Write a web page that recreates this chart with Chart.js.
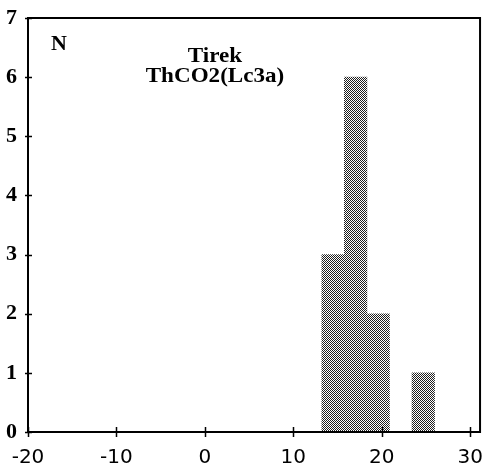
<!DOCTYPE html>
<html>
<head>
<meta charset="utf-8">
<script src="https://cdn.jsdelivr.net/npm/chart.js@4/dist/chart.umd.min.js"></script>
<style>
  html, body { margin: 0; padding: 0; background: #fff; }
  #wrap { width: 489px; height: 472px; }
</style>
</head>
<body>
<div id="wrap"><canvas id="c" width="489" height="472"></canvas></div>
<script>
// ---- data ----
const binCenters = [14.5, 17.05, 19.6, 22.15, 24.7];
const counts     = [3, 6, 2, 0, 1];
const xTickValues = [-20, -10, 0, 10, 20, 30];
const yTickValues = [0, 1, 2, 3, 4, 5, 6, 7];
const titleLines = ['Tirek', 'ThCO2(Lc3a)'];
const yAxisLabel = 'N';

// dithered fill like the printed histogram (fine checkerboard)
function makePattern() {
  const p = document.createElement('canvas');
  p.width = 2; p.height = 2;
  const g = p.getContext('2d');
  g.fillStyle = '#ffffff'; g.fillRect(0, 0, 2, 2);
  g.fillStyle = '#202020';
  g.fillRect(0, 0, 1, 1); g.fillRect(1, 1, 1, 1);
  return document.getElementById('c').getContext('2d').createPattern(p, 'repeat');
}

const framePlugin = {
  id: 'frame',
  afterDraw(chart) {
    const ctx = chart.ctx;
    const a = chart.chartArea;
    const xs = chart.scales.x, ys = chart.scales.y;
    ctx.save();
    ctx.strokeStyle = '#000';
    ctx.lineWidth = 2;
    ctx.beginPath();
    ctx.moveTo(a.left, a.top); ctx.lineTo(a.right, a.top);
    ctx.lineTo(a.right, a.bottom); ctx.lineTo(a.left, a.bottom);
    ctx.closePath();
    ctx.stroke();
    ctx.lineWidth = 1.5;
    ctx.beginPath();
    xTickValues.forEach(v => {
      const px = Math.round(xs.getPixelForValue(v)) + 0.5;
      ctx.moveTo(px, a.bottom - 5); ctx.lineTo(px, a.bottom + 5);
    });
    yTickValues.forEach(v => {
      const py = Math.round(ys.getPixelForValue(v)) + 0.5;
      ctx.moveTo(a.left - 3, py); ctx.lineTo(a.left + 4, py);
    });
    ctx.stroke();
    // texts
    ctx.fillStyle = '#000';
    ctx.textBaseline = 'alphabetic';
    ctx.font = 'bold 22px "Liberation Serif", serif';
    ctx.textAlign = 'left';
    ctx.fillText(yAxisLabel, 51, 50);
    ctx.font = 'bold 21px "Liberation Serif", serif';
    ctx.textAlign = 'center';
    ctx.save();
    ctx.translate(215, 0);
    ctx.scale(1.1, 1);
    ctx.fillText(titleLines[0], 0, 61.5);
    ctx.fillText(titleLines[1], 0, 82);
    ctx.restore();
    ctx.restore();
  }
};

new Chart(document.getElementById('c'), {
  type: 'bar',
  data: {
    datasets: [{
      data: binCenters.map((x, i) => ({ x: x, y: counts[i] })),
      backgroundColor: makePattern(),
      borderWidth: 0,
      barPercentage: 1.0,
      categoryPercentage: 1.0
    }]
  },
  options: {
    responsive: false,
    animation: false,
    devicePixelRatio: 1,
    layout: { padding: { top: 18, right: 6, left: 0, bottom: 0 } },
    plugins: { legend: { display: false }, tooltip: { enabled: false } },
    scales: {
      x: {
        type: 'linear',
        min: -20,
        max: 31.12,
        offset: false,
        grid: { display: false },
        border: { display: false },
        afterFit(s) { s.height = 40; },
        afterBuildTicks(s) { s.ticks = xTickValues.map(v => ({ value: v })); },
        ticks: {
          color: '#000',
          padding: 6,
          maxRotation: 0,
          autoSkip: false,
          font: { family: '"DejaVu Sans", sans-serif', size: 20 }
        }
      },
      y: {
        min: 0,
        max: 7,
        grid: { display: false },
        border: { display: false },
        afterFit(s) { s.width = 28; },
        afterBuildTicks(s) { s.ticks = yTickValues.map(v => ({ value: v })); },
        ticks: {
          color: '#000',
          padding: 3,
          font: { family: '"Liberation Serif", serif', size: 22, weight: 'bold' }
        }
      }
    }
  },
  plugins: [framePlugin]
});
</script>
</body>
</html>
